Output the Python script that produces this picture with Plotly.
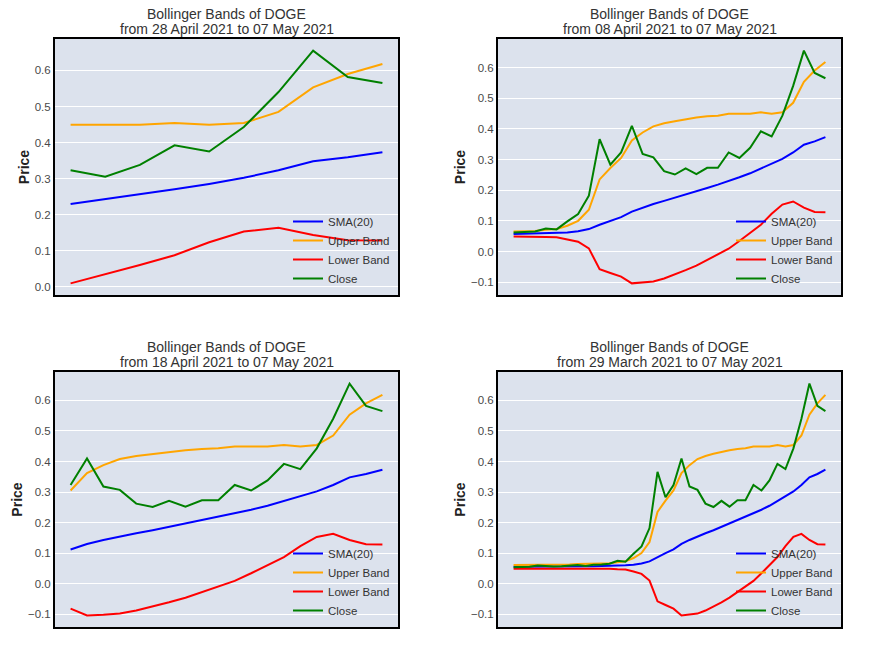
import pandas as pd
import plotly.graph_objects as go

# ---- data (daily DOGE, 29 March 2021 .. 07 May 2021) ----
dates = pd.date_range("2021-03-29", "2021-05-07", freq="D")

close = [0.054, 0.054, 0.055, 0.059, 0.057, 0.056, 0.057, 0.058, 0.061, 0.058,
         0.062, 0.063, 0.065, 0.075, 0.072, 0.098, 0.122, 0.182, 0.366, 0.283,
         0.323, 0.410, 0.318, 0.307, 0.262, 0.251, 0.271, 0.252, 0.273, 0.273,
         0.323, 0.305, 0.338, 0.392, 0.375, 0.443, 0.540, 0.655, 0.582, 0.565]

sma20 = [0.055, 0.055, 0.055, 0.056, 0.056, 0.056, 0.056, 0.056, 0.057, 0.057,
         0.057, 0.058, 0.058, 0.059, 0.060, 0.062, 0.066, 0.073, 0.087, 0.100,
         0.112, 0.130, 0.143, 0.155, 0.165, 0.175, 0.186, 0.196, 0.207, 0.218,
         0.229, 0.242, 0.255, 0.270, 0.285, 0.302, 0.323, 0.348, 0.359, 0.373]

upper = [0.061, 0.061, 0.061, 0.062, 0.062, 0.062, 0.062, 0.063, 0.064, 0.064,
         0.065, 0.066, 0.067, 0.071, 0.073, 0.084, 0.100, 0.136, 0.235, 0.272,
         0.305, 0.362, 0.388, 0.408, 0.418, 0.425, 0.432, 0.437, 0.441, 0.443,
         0.449, 0.449, 0.449, 0.454, 0.449, 0.454, 0.485, 0.553, 0.590, 0.618]

lower = [0.049, 0.049, 0.049, 0.050, 0.050, 0.050, 0.050, 0.049, 0.050, 0.050,
         0.049, 0.049, 0.049, 0.047, 0.046, 0.040, 0.032, 0.010, -0.058, -0.070,
         -0.082, -0.104, -0.102, -0.098, -0.088, -0.075, -0.061, -0.046, -0.028, -0.008,
         0.009, 0.034, 0.060, 0.087, 0.123, 0.153, 0.163, 0.143, 0.129, 0.128]

# windows (days) shown in each panel: top-left, top-right, bottom-left, bottom-right
windows = [10, 30, 20, 40]
series_names = ["SMA(20)", "Upper Band", "Lower Band", "Close"]
series_colors = ["blue", "orange", "red", "green"]

# ---- layout geometry (pixels) ----
W, H = 885, 664
panels_px = [(55, 398, 39, 295), (498, 841, 39, 295),
             (55, 398, 372, 627), (498, 841, 372, 627)]

FONT = "Liberation Sans, Arial, sans-serif"
fig = go.Figure()
layout = dict(
    width=W, height=H, margin=dict(l=0, r=0, t=0, b=0),
    paper_bgcolor="white", plot_bgcolor="#dce2ed",
    font=dict(family=FONT, color="#333333"),
    annotations=[], showlegend=True,
)

for i, (n, (x0, x1, y0, y1)) in enumerate(zip(windows, panels_px)):
    k = i + 1
    xa = "x" if k == 1 else f"x{k}"
    ya = "y" if k == 1 else f"y{k}"
    leg = "legend" if k == 1 else f"legend{k}"
    d = dates[-n:]
    vals = [sma20[-n:], upper[-n:], lower[-n:], close[-n:]]
    for name, col, v in zip(series_names, series_colors, vals):
        fig.add_trace(go.Scatter(x=d, y=v, mode="lines", name=name,
                                 line=dict(color=col, width=2),
                                 xaxis=xa, yaxis=ya, legend=leg))
    allv = [a for s in vals for a in s]
    lo, hi = min(allv), max(allv)
    pad = 0.05 * (hi - lo)
    span = d[-1] - d[0]
    xkey = "xaxis" if k == 1 else f"xaxis{k}"
    ykey = "yaxis" if k == 1 else f"yaxis{k}"
    layout[xkey] = dict(
        domain=[x0 / W, x1 / W], anchor=ya,
        range=[d[0] - 0.05 * span, d[-1] + 0.05 * span],
        showgrid=False, showticklabels=False, ticks="", zeroline=False,
        showline=True, mirror=True, linecolor="black", linewidth=2,
    )
    layout[ykey] = dict(
        domain=[1 - y1 / H, 1 - y0 / H], anchor=xa,
        range=[lo - pad, hi + pad], dtick=0.1, tick0=0, tickformat=".1f",
        showgrid=True, gridcolor="white", gridwidth=1, zeroline=False,
        showline=True, mirror=True, linecolor="black", linewidth=2,
        ticks="", tickfont=dict(size=11.5, color="#4a4a4a"),
        title=dict(text="<b>Price</b>", font=dict(size=14, color="#222222"), standoff=2),
    )
    layout[leg] = dict(
        x=(x1 - 3) / W, xanchor="right", y=1 - (y1 - 2) / H, yanchor="bottom",
        bgcolor="rgba(0,0,0,0)", borderwidth=0,
        font=dict(size=11.5, color="#333333"), tracegroupgap=0,
    )
    start = d[0].strftime("%d %B %Y")
    end = d[-1].strftime("%d %B %Y")
    for txt, off in [("Bollinger Bands of DOGE", 25), (f"from {start} to {end}", 10)]:
        layout["annotations"].append(dict(
            text=txt, xref="paper", yref="paper",
            x=(x0 + x1) / 2 / W, y=1 - (y0 - off) / H,
            xanchor="center", yanchor="middle", showarrow=False,
            font=dict(size=14, color="#333333"),
        ))

fig.update_layout(**layout)
fig.write_html("out.html")
